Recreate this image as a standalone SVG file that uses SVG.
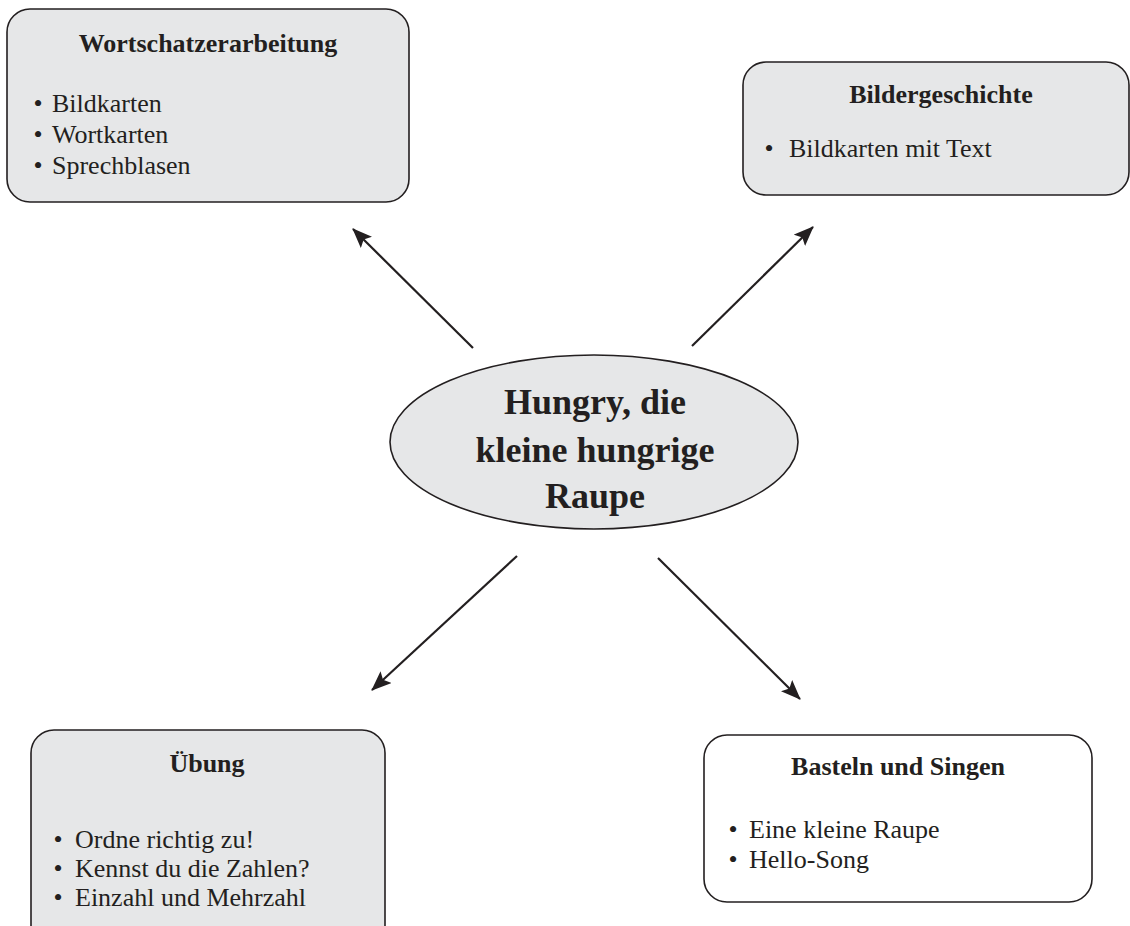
<svg xmlns="http://www.w3.org/2000/svg" width="1130" height="926" viewBox="0 0 1130 926">
<defs>
<style>
.box{fill:#e6e7e8;stroke:#231f20;stroke-width:1.6}
.wbox{fill:#ffffff;stroke:#231f20;stroke-width:1.6}
.t{font-family:"Liberation Serif","Times New Roman",serif;fill:#231f20}
.h{font-size:26px;font-weight:bold;text-anchor:middle}
.b{font-size:26px}
.d{font-size:26px;text-anchor:middle}
.c{font-size:36px;font-weight:bold;text-anchor:middle}
.arr{stroke:#231f20;stroke-width:2.2;fill:none;marker-end:url(#ah)}
</style>
<marker id="ah" viewBox="0 0 20 16" refX="19" refY="8" markerWidth="20" markerHeight="16" markerUnits="userSpaceOnUse" orient="auto">
<path d="M0,0 L20,8 L0,16 L4,8 z" fill="#231f20"/>
</marker>
</defs>
<rect width="1130" height="926" fill="#ffffff"/>
<g id="connectors">
<line class="arr" x1="473" y1="348" x2="353" y2="229"/>
<line class="arr" x1="692" y1="346" x2="813" y2="227"/>
<line class="arr" x1="517" y1="556" x2="372" y2="690"/>
<line class="arr" x1="658" y1="558" x2="800" y2="699"/>
</g>
<g id="wortschatz">
<rect class="box" x="7" y="9" width="402" height="193" rx="23" ry="23"/>
<text class="t h" x="208" y="52">Wortschatzerarbeitung</text>
<text class="t d" x="38" y="112">•</text><text class="t b" x="52" y="112">Bildkarten</text>
<text class="t d" x="38" y="143">•</text><text class="t b" x="52" y="143">Wortkarten</text>
<text class="t d" x="38" y="174">•</text><text class="t b" x="52" y="174">Sprechblasen</text>
</g>
<g id="bildergeschichte">
<rect class="box" x="743" y="62" width="386" height="133" rx="23" ry="23"/>
<text class="t h" x="941" y="103">Bildergeschichte</text>
<text class="t d" x="769" y="157">•</text><text class="t b" x="789" y="157">Bildkarten mit Text</text>
</g>
<g id="zentrum">
<ellipse class="box" cx="594" cy="442" rx="204" ry="87"/>
<text class="t c" x="595" y="414">Hungry, die</text>
<text class="t c" x="595" y="462">kleine hungrige</text>
<text class="t c" x="595" y="508">Raupe</text>
</g>
<g id="uebung">
<rect class="box" x="31" y="730" width="354" height="230" rx="23" ry="23"/>
<text class="t h" x="207" y="772">Übung</text>
<text class="t d" x="58" y="848">•</text><text class="t b" x="75" y="848">Ordne richtig zu!</text>
<text class="t d" x="58" y="877">•</text><text class="t b" x="75" y="877">Kennst du die Zahlen?</text>
<text class="t d" x="58" y="906">•</text><text class="t b" x="75" y="906">Einzahl und Mehrzahl</text>
</g>
<g id="basteln">
<rect class="wbox" x="704" y="735" width="388" height="167" rx="23" ry="23"/>
<text class="t h" x="898" y="775">Basteln und Singen</text>
<text class="t d" x="733" y="838">•</text><text class="t b" x="749" y="838">Eine kleine Raupe</text>
<text class="t d" x="733" y="868">•</text><text class="t b" x="749" y="868">Hello-Song</text>
</g>
</svg>
